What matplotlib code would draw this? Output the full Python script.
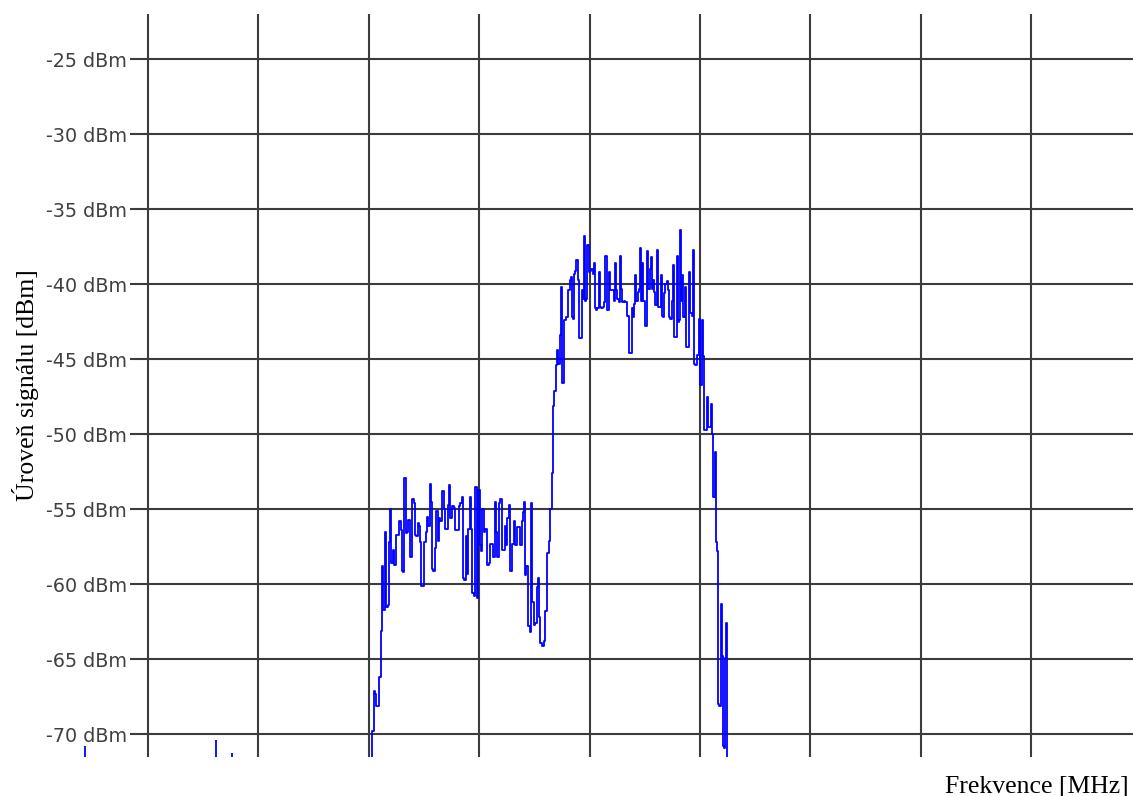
import matplotlib
matplotlib.use("Agg")
import matplotlib.pyplot as plt

# spectrum sweep: frequency [MHz] and level [dBm]
band_freq = [
    2430.25, 2430.32, 2430.37, 2430.50, 2430.62, 2430.73, 2430.86, 2430.98, 2431.10, 2431.16,
    2431.22, 2431.28, 2431.40, 2431.52, 2431.64, 2431.77, 2431.86, 2431.97, 2432.09, 2432.22,
    2432.34, 2432.45, 2432.55, 2432.70, 2432.82, 2432.94, 2433.03, 2433.18, 2433.27, 2433.40,
    2433.51, 2433.63, 2433.76, 2433.90, 2434.00, 2434.12, 2434.24, 2434.36, 2434.48, 2434.60,
    2434.69, 2434.81, 2434.96, 2435.08, 2435.21, 2435.35, 2435.44, 2435.57, 2435.66, 2435.75,
    2435.93, 2436.05, 2436.17, 2436.30, 2436.41, 2436.57, 2436.71, 2436.84, 2436.96, 2437.07,
    2437.20, 2437.32, 2437.47, 2437.62, 2437.77, 2437.93, 2438.16, 2438.22, 2438.38, 2438.47,
    2438.59, 2438.74, 2438.83, 2438.98, 2439.07, 2439.19, 2439.28, 2439.43, 2439.58, 2439.67,
    2439.79, 2439.88, 2439.97, 2440.10, 2440.19, 2440.34, 2440.49, 2440.64, 2440.79, 2440.94,
    2441.10, 2441.24, 2441.33, 2441.46, 2441.55, 2441.69, 2441.85, 2442.00, 2442.15, 2442.30,
    2442.39, 2442.51, 2442.60, 2442.75, 2442.91, 2443.05, 2443.21, 2443.36, 2443.51, 2443.66,
    2443.81, 2443.90, 2444.02, 2444.11, 2444.20, 2444.36, 2444.50, 2444.66, 2444.72, 2444.81,
    2444.93, 2445.02, 2445.17, 2445.26, 2445.38, 2445.47, 2445.63, 2445.77, 2445.92, 2446.08,
    2446.22, 2446.38, 2446.53, 2446.62, 2446.74, 2446.86, 2446.98, 2447.10, 2447.22, 2447.35,
    2447.44, 2447.53, 2447.67, 2447.76, 2447.89, 2448.03, 2448.13, 2448.25, 2448.34, 2448.43,
    2448.55, 2448.64, 2448.73, 2448.85, 2448.98, 2449.09, 2449.25, 2449.34, 2449.46, 2449.55,
    2449.64, 2449.76, 2449.85, 2449.97, 2450.09, 2450.21, 2450.34, 2450.45, 2450.54, 2450.66,
    2450.75, 2450.91, 2451.00, 2451.11, 2451.24, 2451.36, 2451.51, 2451.60, 2451.72, 2451.81,
    2451.97, 2452.11, 2452.27, 2452.36, 2452.47, 2452.56, 2452.72, 2452.81, 2452.90, 2453.02,
    2453.17, 2453.32, 2453.42, 2453.53, 2453.62, 2453.78, 2453.87, 2453.99, 2454.08, 2454.17,
    2454.28, 2454.41, 2454.53, 2454.62, 2454.74, 2454.83, 2454.92, 2455.05, 2455.19, 2455.28,
    2455.37, 2455.50, 2455.59, 2455.68, 2455.80, 2455.89, 2456.04, 2456.13, 2456.28, 2456.40,
    2456.50, 2456.59, 2456.70, 2456.79, 2456.95, 2457.04, 2457.13, 2457.25, 2457.40, 2457.49,
    2457.61, 2457.70, 2457.85, 2457.94, 2458.03, 2458.15, 2458.24, 2458.33, 2458.45, 2458.54,
    2458.67, 2458.81, 2458.97, 2459.06, 2459.21, 2459.30, 2459.39, 2459.51, 2459.66, 2459.76,
    2459.87, 2459.96, 2460.05, 2460.17, 2460.26, 2460.33, 2460.42, 2460.57, 2460.66, 2460.78,
    2460.93, 2461.02, 2461.11, 2461.17, 2461.32, 2461.41, 2461.46, 2461.57, 2461.69, 2461.84,
    2461.93, 2462.02, 2462.11, 2462.23, 2462.32, 2462.41, 2462.47,
]
band_level = [
    -73.0, -69.8, -69.8, -67.1, -67.3, -68.1, -68.1, -66.2, -66.2, -63.1,
    -58.8, -61.7, -61.7, -56.5, -61.5, -61.4, -57.2, -55.0, -58.6, -57.7,
    -58.7, -58.7, -56.7, -56.7, -55.8, -56.4, -59.1, -59.2, -52.95, -56.6,
    -56.5, -55.7, -58.2, -58.2, -54.3, -54.6, -56.7, -56.8, -55.9, -56.1,
    -57.2, -60.1, -60.1, -57.2, -56.5, -55.5, -56.1, -53.3, -54.5, -59.0,
    -59.1, -57.6, -55.1, -57.1, -55.6, -55.8, -53.8, -55.0, -56.3, -56.3,
    -54.7, -53.4, -55.6, -54.8, -54.9, -56.4, -56.4, -54.8, -54.6, -54.2,
    -59.6, -59.7, -56.8, -59.3, -56.3, -54.2, -56.3, -60.6, -60.8, -53.5,
    -53.5, -60.95, -53.7, -57.4, -57.8, -55.0, -56.5, -56.3, -58.7, -58.6,
    -57.3, -57.3, -58.2, -54.5, -56.5, -58.2, -54.6, -54.3, -57.7, -57.7,
    -56.1, -57.4, -55.6, -54.7, -59.1, -57.3, -55.8, -57.4, -56.2, -56.2,
    -57.4, -55.8, -55.2, -54.5, -59.4, -58.8, -62.8, -63.2, -54.6, -61.2,
    -61.2, -62.7, -62.6, -60.2, -59.6, -62.2, -63.95, -64.1, -63.8, -61.8,
    -57.9, -57.1, -55.0, -52.6, -48.1, -47.1, -45.4, -44.4, -45.3, -43.4,
    -40.2, -46.6, -46.6, -42.4, -42.2, -42.2, -40.4, -39.7, -39.5, -42.2,
    -42.3, -39.3, -39.1, -38.4, -39.7, -43.6, -43.6, -40.4, -41.0, -36.8,
    -41.1, -41.0, -37.4, -39.2, -39.1, -39.0, -39.3, -38.6, -41.6, -41.7,
    -41.6, -39.2, -41.5, -41.6, -41.5, -41.2, -38.1, -41.7, -41.7, -39.2,
    -40.4, -40.4, -41.1, -38.6, -40.4, -41.0, -41.2, -38.1, -40.3, -41.2,
    -41.1, -41.2, -42.1, -42.1, -44.6, -44.6, -41.6, -42.2, -41.3, -39.4,
    -41.1, -40.5, -40.3, -37.6, -41.1, -38.6, -41.1, -42.8, -42.8, -37.8,
    -40.3, -39.0, -38.2, -40.3, -39.7, -40.5, -41.4, -37.7, -41.5, -41.5,
    -39.4, -42.1, -42.2, -40.6, -40.0, -39.8, -40.4, -42.2, -42.3, -41.1,
    -38.7, -43.5, -43.5, -38.1, -42.5, -42.4, -36.4, -41.1, -39.4, -42.2,
    -40.2, -44.2, -44.2, -39.2, -41.9, -42.1, -37.7, -45.3, -45.4, -44.7,
    -44.7, -42.3, -46.7, -46.7, -42.4, -44.8, -49.7, -49.7, -47.5, -49.5,
    -49.5, -48.0, -50.0, -54.2, -54.2, -51.2, -57.2, -57.8, -68.0, -68.1,
    -61.3, -64.8, -70.8, -70.9, -64.9, -62.6, -73.0,
]

# lone noise peaks poking up from the floor left of the channel
spike_freq = [2404.26, 2416.19, 2417.60]
spike_level = [-70.8, -70.4, -71.25]

grid_freq = [2410, 2420, 2430, 2440, 2450, 2460, 2470, 2480, 2490]
level_ticks = [-25, -30, -35, -40, -45, -50, -55, -60, -65, -70]
tick_labels = ["-25 dBm", "-30 dBm", "-35 dBm", "-40 dBm", "-45 dBm",
               "-50 dBm", "-55 dBm", "-60 dBm", "-65 dBm", "-70 dBm"]

x_lo, x_hi = 2400, 2499.22
y_lo, y_hi = -71.53, -22.0
grid_col = "#3c3c3c"
trace_col = "#0000ff"

fig = plt.figure(figsize=(11.33, 7.96), dpi=100)
ax = fig.add_axes([0.03319, 0.0490, 0.96681, 0.9334])
ax.set_xlim(x_lo, x_hi)
ax.set_ylim(y_lo, y_hi)
ax.axis("off")

# grid: full-height verticals, horizontals start right after the labels
for f in grid_freq:
    ax.axvline(f, color=grid_col, lw=1.5, zorder=1)
ax.hlines(level_ticks, 2408.37, x_hi, color=grid_col, lw=1.5, zorder=1)

for v, lab in zip(level_ticks, tick_labels):
    ax.annotate(lab, xy=(2408.1, v), xytext=(0, -5.5), textcoords="offset points",
                ha="right", va="baseline", fontsize=13.8, color="#404040",
                family="DejaVu Sans", annotation_clip=False)

# analyser trace: stepped like the instrument draws it
ax.plot(band_freq, band_level, color=trace_col, lw=1.3, drawstyle="steps-mid", zorder=3)
ax.vlines(spike_freq, y_lo, spike_level, color=trace_col, lw=1.3, zorder=3)

fig.text(34.5 / 1133, 1 - 385 / 796, "Úroveň signálu [dBm]", rotation=90,
         rotation_mode="anchor", ha="center", va="baseline",
         family="Liberation Serif", fontsize=18.5, color="black")
fig.text(1129 / 1133, 3 / 796, "Frekvence [MHz]", ha="right", va="baseline",
         family="Liberation Serif", fontsize=18.5, color="black")

fig.savefig("out.png", dpi=100)
